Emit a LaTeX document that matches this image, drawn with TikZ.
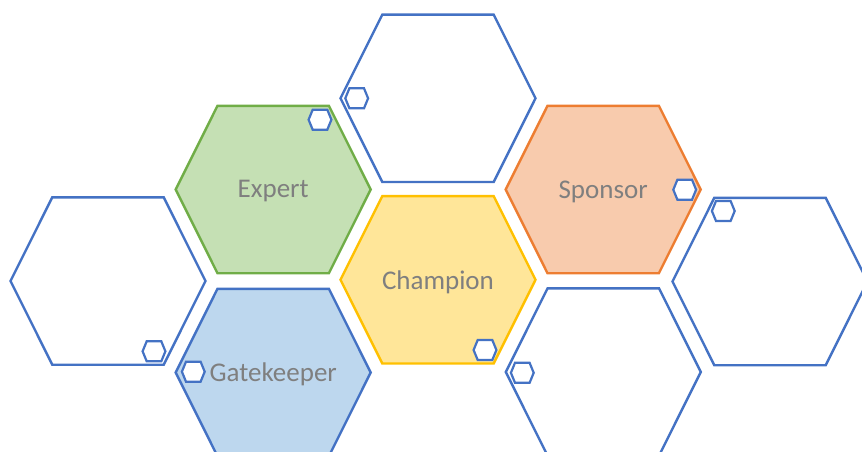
\documentclass[tikz,border=0pt]{standalone}
\usepackage{fontspec}
\setmainfont{Carlito}
\definecolor{hblue}{HTML}{4472C4}
\definecolor{hgreen}{HTML}{70AD47}
\definecolor{horange}{HTML}{ED7D31}
\definecolor{hyellow}{HTML}{FFC000}
\definecolor{fgreen}{HTML}{C5E0B4}
\definecolor{forange}{HTML}{F8CBAD}
\definecolor{fyellow}{HTML}{FFE699}
\definecolor{fblue}{HTML}{BDD7EE}
\definecolor{tgray}{HTML}{7F7F7F}
\tikzset{
  bighex/.pic={\path[pic actions] (-97.5,0) -- (-55.7,-83.7) -- (55.7,-83.7) -- (97.5,0) -- (55.7,83.7) -- (-55.7,83.7) -- cycle;},
  smallhex/.pic={\path[pic actions] (-11.4,0) -- (-7.3,-10) -- (7.3,-10) -- (11.4,0) -- (7.3,10) -- (-7.3,10) -- cycle;},
  hexline/.style={line width=2.4pt, line join=miter},
  plainhex/.style={hexline, draw=hblue, fill=white},
  tinyhex/.style={line width=2.2pt, draw=hblue, fill=white},
  lbl/.style={text=tgray, font=\fontsize{27}{32}\selectfont, inner sep=0pt, yshift=-2pt}
}
\begin{document}
\begin{tikzpicture}[x=1pt,y=-1pt]
\useasboundingbox (0,0) rectangle (862,452);
\clip (0,0) rectangle (862,452);
% big hexagons
\pic[plainhex] at (438,98.3) {bighex};
\pic[hexline, draw=hgreen, fill=fgreen] at (273.2,189.5) {bighex};
\pic[hexline, draw=horange, fill=forange] at (603.2,189.5) {bighex};
\pic[plainhex] at (108,281) {bighex};
\pic[hexline, draw=hyellow, fill=fyellow] at (438,279.8) {bighex};
\pic[plainhex] at (770,281.5) {bighex};
\pic[hexline, draw=hblue, fill=fblue] at (273.2,372.5) {bighex};
\pic[plainhex] at (603.3,372) {bighex};
% labels
\node[lbl] (expert) at (273.2,189.5) {Expert};
\node[lbl] (sponsor) at (603.2,189.5) {Sponsor};
\node[lbl] (champion) at (438,279.8) {Champion};
\node[lbl] (gatekeeper) at (273.2,372.5) {Gatekeeper};
% small hexagons
\pic[tinyhex] at (320,119.7) {smallhex};
\pic[tinyhex] at (356.7,98.3) {smallhex};
\pic[tinyhex] at (684.7,189.7) {smallhex};
\pic[tinyhex] at (723.3,211) {smallhex};
\pic[tinyhex] at (154,351.3) {smallhex};
\pic[tinyhex] at (193.3,371.7) {smallhex};
\pic[tinyhex] at (485,350) {smallhex};
\pic[tinyhex] at (522.3,372.8) {smallhex};
\end{tikzpicture}
\end{document}
